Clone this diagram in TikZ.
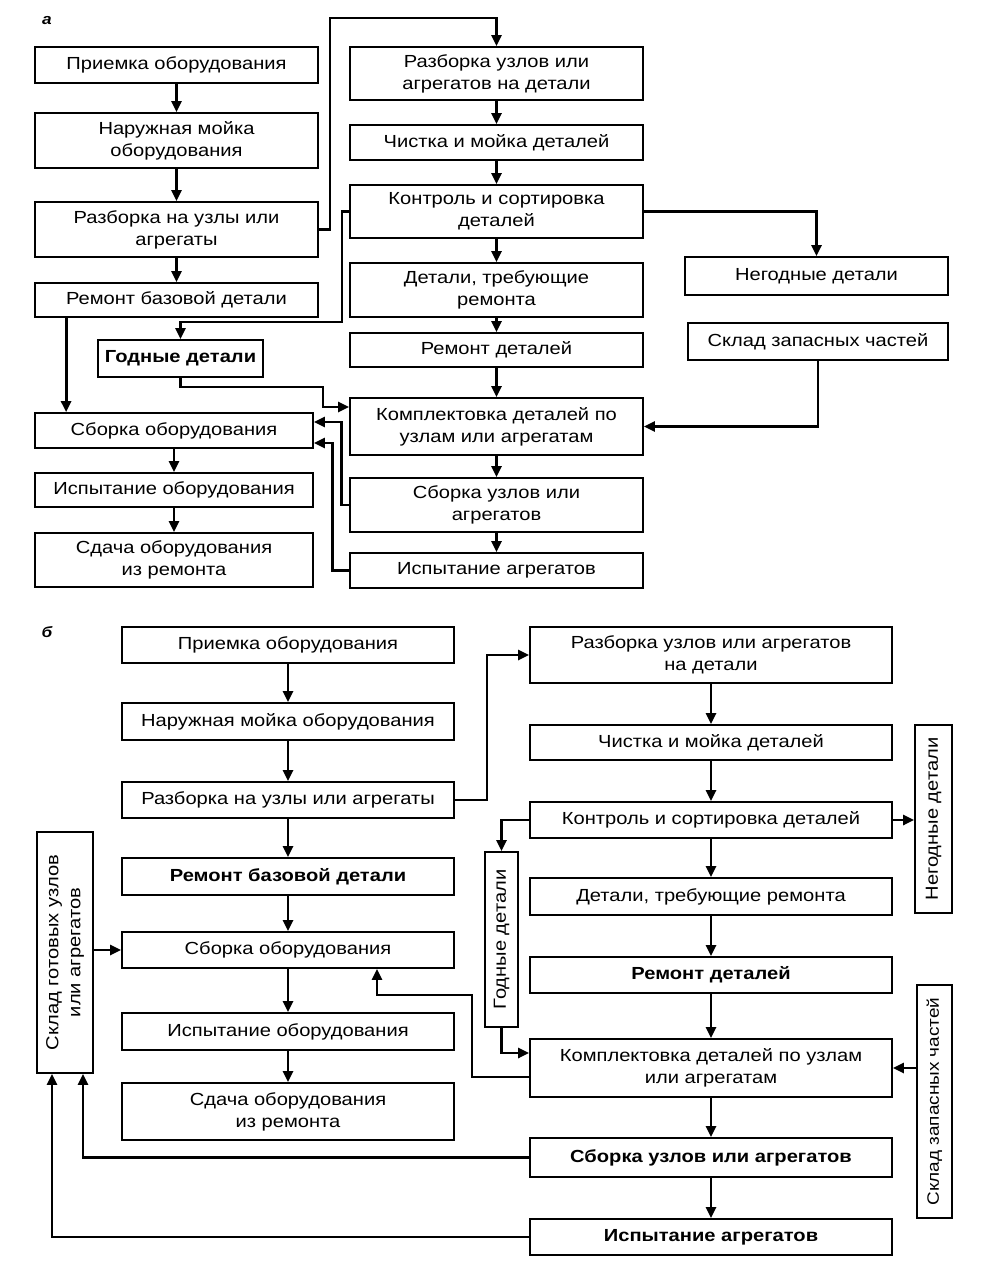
\documentclass[tikz,border=0pt]{standalone}
\usepackage{fontspec}
\setmainfont{Liberation Sans}[FakeStretch=1.15]
\usetikzlibrary{arrows.meta,calc}
\newcommand\fs{\fontsize{17.5}{22}\selectfont}
\begin{document}
\begin{tikzpicture}[x=1pt,y=-1pt,
  box/.style={draw, line width=1.8pt, inner sep=0pt, align=center, font=\fs},
  vbox/.style={draw, line width=1.8pt, inner sep=0pt},
  vtext/.style={rotate=90, inner sep=0pt, align=center, font=\fs},
  lbl/.style={font=\bfseries\itshape\fontsize{15}{17}\selectfont, inner sep=0pt},
  arr/.style={line width=2.8pt, -{Triangle[length=11pt,width=10pt]}}]
\useasboundingbox (0,0) rectangle (988,1275);
% ---------- part a ----------
\node[lbl] (la) at (47,21) {а};
\node[box, minimum width=283, minimum height=36] (A1) at (176.5,65) {Приемка оборудования};
\node[box, minimum width=283, minimum height=55] (A2) at (176.5,140.5) {Наружная мойка\\оборудования};
\node[box, minimum width=283, minimum height=55] (A3) at (176.5,229.5) {Разборка на узлы или\\агрегаты};
\node[box, minimum width=283, minimum height=34] (A4) at (176.5,300) {Ремонт базовой детали};
\node[box, minimum width=165, minimum height=37] (AG) at (180.5,358.5) {\bfseries Годные детали};
\node[box, minimum width=278, minimum height=35] (A5) at (174,430.5) {Сборка оборудования};
\node[box, minimum width=278, minimum height=34] (A6) at (174,490) {Испытание оборудования};
\node[box, minimum width=278, minimum height=54] (A7) at (174,560) {Сдача оборудования\\из ремонта};
\node[box, minimum width=293, minimum height=53] (B1) at (496.5,73.5) {Разборка узлов или\\агрегатов на детали};
\node[box, minimum width=293, minimum height=35] (B2) at (496.5,142.5) {Чистка и мойка деталей};
\node[box, minimum width=293, minimum height=53] (B3) at (496.5,211.5) {Контроль и сортировка\\деталей};
\node[box, minimum width=293, minimum height=54] (B4) at (496.5,290) {Детали, требующие\\ремонта};
\node[box, minimum width=293, minimum height=34] (B5) at (496.5,350) {Ремонт деталей};
\node[box, minimum width=293, minimum height=57] (B6) at (496.5,426.5) {Комплектовка деталей по\\узлам или агрегатам};
\node[box, minimum width=293, minimum height=54] (B7) at (496.5,505) {Сборка узлов или\\агрегатов};
\node[box, minimum width=293, minimum height=35] (B8) at (496.5,570.5) {Испытание агрегатов};
\node[box, minimum width=263, minimum height=38] (R1) at (816.5,276) {Негодные детали};
\node[box, minimum width=260, minimum height=37] (R2) at (818,341.5) {Склад запасных частей};
\draw[arr] (A1) -- (A2);
\draw[arr] (A2) -- (A3);
\draw[arr] (A3) -- (A4);
\draw[arr] (A5) -- (A6);
\draw[arr] (A6) -- (A7);
\draw[arr] (A3.east) -| (330,18) -| (B1.north);
\draw[arr] (B1) -- (B2);
\draw[arr] (B2) -- (B3);
\draw[arr] (B3) -- (B4);
\draw[arr] (B4) -- (B5);
\draw[arr] (B5) -- (B6);
\draw[arr] (B6) -- (B7);
\draw[arr] (B7) -- (B8);
\draw[arr] (B3.west) -| (342,322) -| (AG.north);
\draw[arr] ([xshift=32pt]A4.south west) -- ([xshift=32pt]A5.north west);
\draw[arr] (AG.south) |- (323,387) |- ($(B6.west)+(0,-19.5)$);
\draw[arr] (B7.west) -- ++(-8,0) |- ($(A5.east)+(0,-8.5)$);
\draw[arr] (B8.west) -- ++(-17,0) |- ($(A5.east)+(0,12.5)$);
\draw[arr] (B3.east) -| (R1.north);
\draw[arr] (R2.south) |- (B6.east);
% ---------- part b ----------
\node[lbl] (lb) at (47,632) {б};
\node[box, minimum width=332, minimum height=36] (C1) at (288,645) {Приемка оборудования};
\node[box, minimum width=332, minimum height=37] (C2) at (288,721.5) {Наружная мойка оборудования};
\node[box, minimum width=332, minimum height=36] (C3) at (288,800) {Разборка на узлы или агрегаты};
\node[box, minimum width=332, minimum height=37] (C4) at (288,876.5) {\bfseries Ремонт базовой детали};
\node[box, minimum width=332, minimum height=36] (C5) at (288,950) {Сборка оборудования};
\node[box, minimum width=332, minimum height=37] (C6) at (288,1031.5) {Испытание оборудования};
\node[box, minimum width=332, minimum height=57] (C7) at (288,1111.5) {Сдача оборудования\\из ремонта};
\node[vbox, minimum width=56, minimum height=241] (S) at (65,952.5) {};
\node[vtext] (St) at (S) {Склад готовых узлов\\или агрегатов};
\node[box, minimum width=362, minimum height=56] (D1) at (711,655) {Разборка узлов или агрегатов\\на детали};
\node[box, minimum width=362, minimum height=35] (D2) at (711,742.5) {Чистка и мойка деталей};
\node[box, minimum width=362, minimum height=36] (D3) at (711,820) {Контроль и сортировка деталей};
\node[box, minimum width=362, minimum height=37] (D4) at (711,896.5) {Детали, требующие ремонта};
\node[box, minimum width=362, minimum height=36] (D5) at (711,975) {\bfseries Ремонт деталей};
\node[box, minimum width=362, minimum height=58] (D6) at (711,1068) {Комплектовка деталей по узлам\\или агрегатам};
\node[box, minimum width=362, minimum height=39] (D7) at (711,1157.5) {\bfseries Сборка узлов или агрегатов};
\node[box, minimum width=362, minimum height=36] (D8) at (711,1237) {\bfseries Испытание агрегатов};
\node[vbox, minimum width=33, minimum height=175] (G) at (501.5,939.5) {};
\node[vtext] (Gt) at (G) {Годные детали};
\node[vbox, minimum width=37, minimum height=188] (N) at (933.5,819) {};
\node[vtext] (Nt) at (N) {Негодные детали};
\node[vbox, minimum width=35, minimum height=233] (Z) at (934.5,1101.5) {};
\node[vtext, font=\fontsize{16.5}{20}\selectfont] (Zt) at (Z) {Склад запасных частей};
\draw[arr] (C1) -- (C2);
\draw[arr] (C2) -- (C3);
\draw[arr] (C3) -- (C4);
\draw[arr] (C4) -- (C5);
\draw[arr] (C5) -- (C6);
\draw[arr] (C6) -- (C7);
\draw[arr] (C3.east) -- ++(32,0) |- (D1.west);
\draw[arr] (D1) -- (D2);
\draw[arr] (D2) -- (D3);
\draw[arr] (D3) -- (D4);
\draw[arr] (D4) -- (D5);
\draw[arr] (D5) -- (D6);
\draw[arr] (D6) -- (D7);
\draw[arr] (D7) -- (D8);
\draw[arr] (D3.west) -| (G.north);
\draw[arr] (D3.east) -- (D3.east -| N.west);
\draw[arr] (G.south) |- ($(D6.west)+(0,-15)$);
\draw[arr] ($(D6.west)+(0,9)$) -- (472,1077) |- (377,995) -- ([xshift=89pt]C5.south);
\draw[arr] (Z.west |- D6.east) -- (D6.east);
\draw[arr] (S.east |- C5.west) -- (C5.west);
\draw[arr] (D7.west) -| ([xshift=18pt]S.south);
\draw[arr] (D8.west) -| ([xshift=-13pt]S.south);
\end{tikzpicture}
\end{document}
